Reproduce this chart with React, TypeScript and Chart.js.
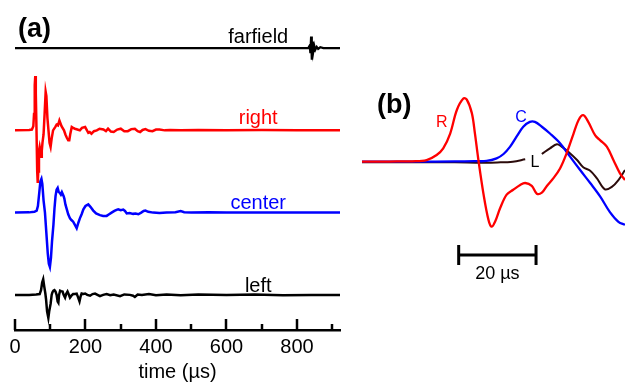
import React, { useEffect, useRef } from "react";
import { Chart, registerables } from "chart.js";

Chart.register(...registerables);

const FONT = "'Liberation Sans', Arial, Helvetica, sans-serif";

// ---------- panel (a): full records, time in µs, amplitude in trace-spacing units ----------
const TIME_MAX = 922;
const tickLabels = [0, 200, 400, 600, 800];
const minorTicks = [100, 300, 500, 700, 900];
const traceNames = ["farfield", "right", "center", "left"];

const farfield: number[][] = [
  [0, 0], [200, 0], [400, 0], [600, 0], [800, 0], [832, 0], [836, 0.03], [838, -0.06],
  [840, 0.14], [842, -0.14], [844, 0.08], [846, -0.05], [849, 0.03], [852, -0.02],
  [856, 0.015], [860, -0.01], [866, 0.01], [875, 0], [922, 0],
];

const right: number[][] = [
  [0, 0], [40, 0.005], [48, 0.01], [52, 0.05], [54, 0.2], [56, 0.55], [57.5, 0.66], [59, 0.45],
  [61, 0], [63, -0.5], [64.5, -0.64], [66, -0.5], [68, -0.25], [70, -0.2], [72, -0.25],
  [74, -0.32], [76, -0.25], [78, -0.15], [81, -0.05], [84, 0.2], [87, 0.47], [89, 0.42],
  [92, 0.15], [95, 0], [98, -0.15], [101, -0.2], [104, -0.1], [108, 0], [114, 0.04],
  [118, 0.07], [122, 0.06], [126, 0.12], [132, 0.05], [139, 0], [143, -0.05], [147, -0.09],
  [151, -0.12], [154, -0.12], [157, -0.04], [161, 0.04], [165, 0.03], [170, 0.02], [177, 0.01],
  [184, 0], [190, 0.03], [199, 0.04], [203, 0.01], [208, -0.03], [212, -0.02], [217, -0.04],
  [224, -0.01], [232, 0], [240, 0.02], [251, 0.01], [258, -0.01], [264, 0.02], [272, -0.015],
  [280, -0.02], [290, 0.01], [300, 0.02], [310, -0.01], [320, -0.01], [330, 0.015], [340, 0.02],
  [348, -0.01], [355, -0.02], [362, 0.005], [370, 0.015], [380, -0.005], [390, -0.01],
  [400, 0.01], [410, 0.01], [425, 0], [440, 0.005], [470, 0], [520, 0.005], [600, 0],
  [700, 0.003], [800, 0], [922, 0],
];

const center: number[][] = [
  [0, 0], [40, 0.003], [55, 0.01], [61.5, 0.025], [65, 0.08], [69, 0.25], [72, 0.38], [75, 0.41],
  [77.5, 0.35], [81, 0.15], [85, 0], [89, -0.25], [93, -0.5], [96, -0.62], [99, -0.66],
  [102, -0.55], [105, -0.35], [109, -0.15], [112, 0.05], [115, 0.2], [118, 0.28], [121, 0.3],
  [124, 0.25], [127, 0.24], [130, 0.22], [133, 0.25], [135, 0.23], [138, 0.2], [140, 0.17],
  [143, 0.1], [147, 0.04], [151, -0.02], [156, -0.07], [160, -0.09], [165, -0.11], [170, -0.15],
  [175, -0.19], [180, -0.12], [184, -0.07], [189, -0.02], [194, 0.04], [200, 0.08], [208, 0.1],
  [214, 0.07], [222, 0.025], [230, -0.01], [241, -0.03], [250, -0.04], [260, -0.04],
  [267, -0.02], [274, 0], [282, 0.02], [288, 0.033], [293, 0.04], [300, 0.03], [307, 0.037],
  [312, 0.02], [317, -0.01], [325, -0.005], [335, -0.015], [342, -0.01], [350, -0.02],
  [358, 0], [365, 0.02], [370, 0.025], [378, 0.01], [392, 0], [410, -0.005], [430, 0],
  [455, 0.005], [470, 0.018], [480, 0.005], [500, 0], [550, 0.004], [600, 0], [700, 0.002],
  [800, 0], [922, 0],
];

const left: number[][] = [
  [0, 0], [40, 0], [60, 0.005], [70, 0.01], [74, 0.06], [77, 0.15], [80, 0.19], [83, 0.1],
  [86, 0.02], [88, -0.05], [91, -0.2], [94.6, -0.28], [97, -0.2], [101, -0.11], [104, 0],
  [106, 0.03], [109, 0.05], [112, 0.057], [115, 0.04], [118, 0], [121, -0.08], [123, -0.094],
  [125, 0], [128, 0.05], [131, 0.045], [135, 0.04], [138, 0], [142, -0.033], [145, 0.01],
  [149, 0.04], [152, 0.01], [156, -0.033], [160, -0.01], [165, 0.01], [170, 0.01], [175, 0.015],
  [179, -0.03], [183, -0.08], [186, -0.02], [189, 0.016], [194, 0.01], [199, 0.016], [205, 0],
  [213, -0.01], [220, 0.01], [227, 0.016], [234, 0], [241, -0.016], [250, 0], [260, 0.01],
  [270, -0.005], [280, 0.005], [298, -0.016], [310, 0.005], [326, 0], [335, -0.01],
  [340, -0.025], [348, 0.005], [360, 0], [380, 0.01], [400, -0.005], [430, 0.005],
  [470, -0.005], [520, 0.005], [600, 0], [680, 0.004], [760, -0.004], [840, 0], [922, 0],
];

// ---------- panel (b): zoom on the first arrivals (time in µs) ----------
const zoomLabels = ["R", "C", "L"];
const scaleBarUs = [56, 76];
const scaleBarText = "20 µs";

const rightZoom: (number | null)[][] = [
  [30.5, 0], [36, 0], [40, 0.002], [44, 0.004], [47.7, 0.017], [50.3, 0.069], [52, 0.137],
  [53.8, 0.29], [55.5, 0.53], [57.2, 0.65], [58.1, 0.64], [59.4, 0.5], [60.2, 0.29],
  [61.1, 0.017], [62.4, -0.33], [63.7, -0.6], [64.5, -0.67], [65.4, -0.62], [66.7, -0.48],
  [68.4, -0.34], [70.1, -0.29], [71.9, -0.24], [73.2, -0.22], [74.9, -0.25], [76.2, -0.33],
  [77.5, -0.32], [78.8, -0.25], [80.5, -0.17], [82.2, -0.07], [83.9, 0.086], [85.7, 0.29],
  [87, 0.43], [88.2, 0.48], [89.5, 0.41], [91.3, 0.27], [92.6, 0.22], [94.3, 0.155],
  [96, 0.017], [97.7, -0.12], [99, -0.19],
];

const centerZoom: (number | null)[][] = [
  [30.5, 0], [45, 0], [55, 0.003], [60, 0.005], [63.2, 0.007], [65.8, 0.034], [67.6, 0.079],
  [69.3, 0.155], [71, 0.26], [72.7, 0.36], [74.4, 0.41], [75.7, 0.41], [77.5, 0.36],
  [79.6, 0.29], [82.2, 0.19], [84.8, 0.052], [87.4, -0.086], [90, -0.22], [92.6, -0.36],
  [95.1, -0.52], [97.3, -0.62], [99, -0.65],
];

const leftZoom: (number | null)[][] = [
  [30.5, -0.005], [45, -0.005], [55, -0.006], [62, -0.01], [66, -0.008], [70, 0], [73.2, 0.024],
  [75.3, null], [77.5, 0.079], [79.6, 0.137], [81.4, 0.18], [82.6, 0.155], [84.4, 0.1],
  [86.6, 0.017], [88.2, -0.058], [90, -0.093], [91.7, -0.17], [93.8, -0.285], [95.6, -0.26],
  [97.3, -0.19], [99, -0.086],
];

const toXY = (arr: (number | null)[][], offset = 0) =>
  arr.map(([x, y]) => ({ x: x as number, y: y === null ? null : (y as number) + offset }));

const RED = "#ff0000";
const BLUE = "#0000ff";
const BLACK = "#000000";
const DARK = "#2b0b0b";

export default function App() {
  const refA = useRef<HTMLCanvasElement | null>(null);
  const refB = useRef<HTMLCanvasElement | null>(null);

  useEffect(() => {
    document.body.style.margin = "0";
    const offsets = [3, 2, 1, 0];
    const colorsA = [BLACK, RED, BLUE, BLACK];
    const seriesA = [farfield, right, center, left];
    const labelRise = [0.057, 0.082, 0.045, 0.04];

    const pluginA = {
      id: "panelA",
      afterDatasetsDraw(chart: any) {
        const { ctx, chartArea } = chart;
        const x = chart.scales.x;
        const y = chart.scales.y;
        ctx.save();
        ctx.strokeStyle = "#000";
        ctx.lineWidth = 2.5;
        const drawTick = (v: number, len: number) => {
          const px = Math.round(x.getPixelForValue(v));
          ctx.beginPath();
          ctx.moveTo(px, chartArea.bottom);
          ctx.lineTo(px, chartArea.bottom - len);
          ctx.stroke();
        };
        tickLabels.forEach((v) => drawTick(v, 11));
        minorTicks.forEach((v) => drawTick(v, 6));
        ctx.font = `20px ${FONT}`;
        ctx.textAlign = "center";
        ctx.textBaseline = "alphabetic";
        traceNames.forEach((name, i) => {
          ctx.fillStyle = colorsA[i];
          ctx.fillText(name, x.getPixelForValue(690), y.getPixelForValue(offsets[i] + labelRise[i]));
        });
        ctx.font = `bold 27px ${FONT}`;
        ctx.textAlign = "left";
        ctx.fillStyle = "#000";
        ctx.fillText("(a)", 18, 37);
        ctx.restore();
      },
    };

    const chartA = new Chart(refA.current as HTMLCanvasElement, {
      type: "line",
      data: {
        datasets: seriesA.map((s, i) => ({
          label: traceNames[i],
          data: toXY(s, offsets[i]) as any,
          borderColor: colorsA[i],
          borderWidth: i === 0 ? 2.2 : 2.5,
          pointRadius: 0,
          tension: 0,
        })),
      },
      options: {
        animation: false,
        responsive: false,
        layout: { padding: { top: 5, left: 15, right: 10, bottom: 4 } },
        plugins: { legend: { display: false }, tooltip: { enabled: false } },
        scales: {
          x: {
            type: "linear",
            min: 0,
            max: TIME_MAX,
            afterBuildTicks: (axis: any) => {
              axis.ticks = tickLabels.map((v) => ({ value: v }));
            },
            grid: { display: true, drawOnChartArea: false, drawTicks: false, color: "rgba(0,0,0,0)" },
            border: { display: true, color: "#000", width: 2.5 },
            ticks: { padding: 5, color: "#000", font: { family: FONT, size: 20 }, maxRotation: 0 },
            title: {
              display: true,
              text: "time (µs)",
              color: "#000",
              font: { family: FONT, size: 20 },
              padding: { top: -4, bottom: 0 },
            },
          },
          y: { type: "linear", display: false, min: -0.427, max: 3.524 },
        },
      },
      plugins: [pluginA],
    });

    const colorsB = [RED, BLUE, DARK];
    const seriesB = [rightZoom, centerZoom, leftZoom];
    const labelPos = [
      [51.6, 0.36],
      [72.1, 0.41],
      [75.7, -0.058],
    ];

    const pluginB = {
      id: "panelB",
      afterDatasetsDraw(chart: any) {
        const { ctx } = chart;
        const x = chart.scales.x;
        const y = chart.scales.y;
        ctx.save();
        ctx.font = `16px ${FONT}`;
        ctx.textAlign = "center";
        ctx.textBaseline = "alphabetic";
        zoomLabels.forEach((t, i) => {
          ctx.fillStyle = i === 2 ? "#000" : colorsB[i];
          ctx.fillText(t, x.getPixelForValue(labelPos[i][0]), y.getPixelForValue(labelPos[i][1]));
        });
        // scale bar
        const x0 = x.getPixelForValue(scaleBarUs[0]);
        const x1 = x.getPixelForValue(scaleBarUs[1]);
        const yb = y.getPixelForValue(-0.962);
        const cap = 10;
        ctx.strokeStyle = "#000";
        ctx.lineWidth = 3;
        ctx.beginPath();
        ctx.moveTo(x0, yb);
        ctx.lineTo(x1, yb);
        ctx.moveTo(x0, yb - cap);
        ctx.lineTo(x0, yb + cap);
        ctx.moveTo(x1, yb - cap);
        ctx.lineTo(x1, yb + cap);
        ctx.stroke();
        ctx.fillStyle = "#000";
        ctx.font = `18px ${FONT}`;
        ctx.fillText(scaleBarText, (x0 + x1) / 2, y.getPixelForValue(-1.21));
        ctx.font = `bold 27px ${FONT}`;
        ctx.textAlign = "left";
        ctx.fillText("(b)", 22, 33);
        ctx.restore();
      },
    };

    const chartB = new Chart(refB.current as HTMLCanvasElement, {
      type: "line",
      data: {
        datasets: seriesB.map((s, i) => ({
          label: zoomLabels[i],
          data: toXY(s) as any,
          borderColor: colorsB[i],
          borderWidth: i === 2 ? 2 : 2.3,
          pointRadius: 0,
          tension: 0.35,
          spanGaps: false,
        })),
      },
      options: {
        animation: false,
        responsive: false,
        layout: { padding: { top: 5, left: 7, right: 0, bottom: 15 } },
        plugins: { legend: { display: false }, tooltip: { enabled: false } },
        scales: {
          x: { type: "linear", display: false, min: 31, max: 99 },
          y: { type: "linear", display: false, min: -1.271, max: 0.79 },
        },
      },
      plugins: [pluginB],
    });

    return () => {
      chartA.destroy();
      chartB.destroy();
    };
  }, []);

  return (
    <div style={{ position: "relative", width: 625, height: 388, background: "#fff", overflow: "hidden" }}>
      <canvas ref={refA} width={350} height={388} style={{ position: "absolute", left: 0, top: 0 }} />
      <canvas ref={refB} width={270} height={220} style={{ position: "absolute", left: 355, top: 80 }} />
    </div>
  );
}
